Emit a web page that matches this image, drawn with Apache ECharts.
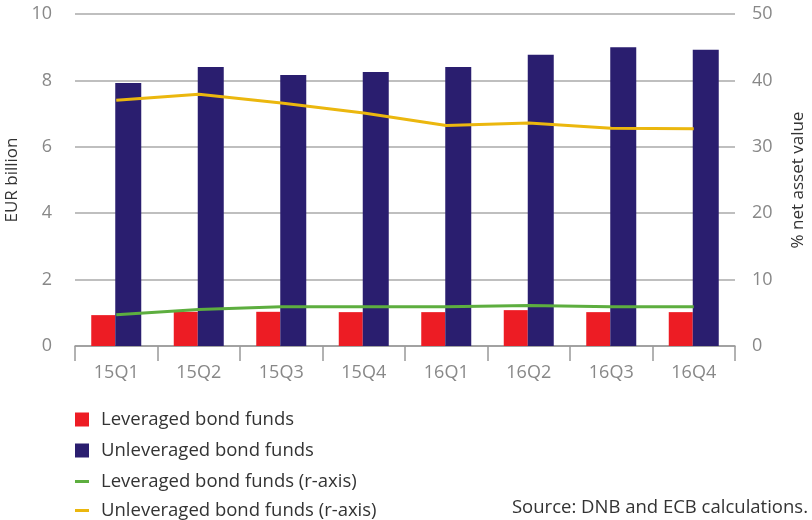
<!DOCTYPE html>
<html>
<head>
<meta charset="utf-8">
<script src="https://cdn.jsdelivr.net/npm/echarts@6/dist/echarts.min.js"></script>
<style>
  html, body { margin: 0; padding: 0; background: #fff; }
  #chart { width: 812px; height: 520px; }
</style>
</head>
<body>
<div id="chart"></div>
<script>
  // chart data
  var quarters = ['15Q1', '15Q2', '15Q3', '15Q4', '16Q1', '16Q2', '16Q3', '16Q4'];
  var leveraged = [0.93, 1.03, 1.03, 1.02, 1.02, 1.08, 1.02, 1.02];
  var unleveraged = [7.92, 8.40, 8.16, 8.25, 8.40, 8.77, 9.00, 8.92];
  var leveragedPct = [4.7, 5.5, 5.9, 5.9, 5.9, 6.1, 5.9, 5.9];
  var unleveragedPct = [37.0, 37.9, 36.6, 35.1, 33.2, 33.6, 32.8, 32.7];
  var seriesNames = ['Leveraged bond funds', 'Unleveraged bond funds',
    'Leveraged bond funds (r-axis)', 'Unleveraged bond funds (r-axis)'];

  var font = 'Open Sans';
  var lineIcon = 'path://M0,0h0.01v0.01h-0.01z M0,5.5h14v3h-14z M13.99,13.99h0.01v0.01h-0.01z';
  var legendTops = [410, 441, 472, 501];

  // one legend per row, the reference stacks them at fixed spacing
  var legends = seriesNames.map(function (n, i) {
    return {
      left: 75,
      top: legendTops[i],
      padding: 0,
      itemWidth: 14,
      itemHeight: 14,
      textStyle: { fontFamily: font, fontSize: 18.5, color: '#333', padding: [0, 0, 0, 7] },
      data: [{ name: n, icon: i < 2 ? 'rect' : lineIcon }]
    };
  });

  var myChart = echarts.init(document.getElementById('chart'));
  var option = {
    animation: false,
    textStyle: { fontFamily: font },
    grid: {
      left: 75,
      right: 77,
      top: 14,
      bottom: 174,
      containLabel: false,
      outerBoundsMode: 'none'
    },
    legend: legends,
    graphic: [{
      type: 'text',
      right: 4,
      top: 498,
      style: {
        text: 'Source: DNB and ECB calculations.',
        fontFamily: font,
        fontSize: 18.5,
        fill: '#333'
      }
    }],
    xAxis: {
      type: 'category',
      data: quarters,
      axisLine: { lineStyle: { color: '#999', width: 1.5 } },
      axisTick: { show: true, length: 15, lineStyle: { color: '#999', width: 1.5 } },
      axisLabel: { color: '#888', fontSize: 18, margin: 18 }
    },
    yAxis: [
      {
        type: 'value',
        min: 0,
        max: 10,
        interval: 2,
        name: 'EUR billion',
        nameLocation: 'middle',
        nameRotate: 90,
        nameGap: 53,
        nameTextStyle: { color: '#333', fontSize: 17 },
        axisLine: { show: false },
        axisTick: { show: false },
        axisLabel: { color: '#888', fontSize: 18, margin: 23 },
        splitLine: { lineStyle: { color: '#aaa', width: 1.5 } }
      },
      {
        type: 'value',
        min: 0,
        max: 50,
        interval: 10,
        position: 'right',
        name: '% net asset value',
        nameLocation: 'middle',
        nameRotate: 90,
        nameGap: 55,
        nameTextStyle: { color: '#333', fontSize: 17 },
        axisLine: { show: false },
        axisTick: { show: false },
        axisLabel: { color: '#888', fontSize: 18, margin: 17 },
        splitLine: { show: false }
      }
    ],
    series: [
      {
        name: seriesNames[0],
        type: 'bar',
        data: leveraged,
        barWidth: 24,
        barGap: '0%',
        itemStyle: { color: '#ED1C24' }
      },
      {
        name: seriesNames[1],
        type: 'bar',
        data: unleveraged,
        barWidth: 26,
        barGap: '0%',
        itemStyle: { color: '#2A1E6F' }
      },
      {
        name: seriesNames[2],
        type: 'line',
        yAxisIndex: 1,
        data: leveragedPct,
        symbol: 'none',
        lineStyle: { color: '#5DAE3F', width: 3 },
        itemStyle: { color: '#5DAE3F' }
      },
      {
        name: seriesNames[3],
        type: 'line',
        yAxisIndex: 1,
        data: unleveragedPct,
        symbol: 'none',
        lineStyle: { color: '#EBB70E', width: 3 },
        itemStyle: { color: '#EBB70E' }
      }
    ]
  };
  myChart.setOption(option);
</script>
</body>
</html>
